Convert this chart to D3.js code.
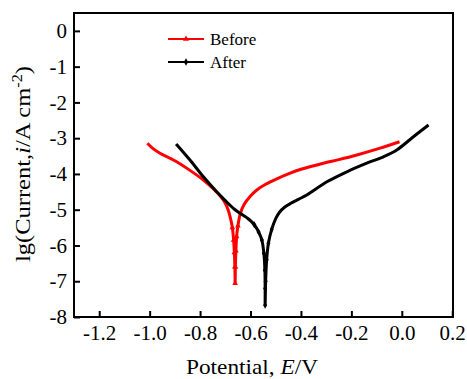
<!DOCTYPE html>
<html>
<script src="https://d3js.org/d3.v7.min.js"></script>

<head>
    <style>
        body {
            margin: 0;
            background-color: #ffffff;
        }

        svg {
            display: block;
            font-family: "Liberation Serif", "Times New Roman", serif;
        }

        svg text {
            font-family: "Liberation Serif", "Times New Roman", serif;
        }
    </style>
</head>

<body>
</body>
<script>
    const width = 467,
        height = 379;
    const margin = { top: 13, right: 14, bottom: 62, left: 74 };

    // Tafel curves: potential (V) and lg(i)
    const beforeE = [-1.009, -0.985, -0.959, -0.925, -0.893, -0.840, -0.787, -0.750, -0.720, -0.700, -0.688, -0.680, -0.672,
        -0.667, -0.664, -0.662, -0.661, -0.660, -0.658, -0.655, -0.650, -0.640, -0.625, -0.600, -0.575, -0.540, -0.500,
        -0.450, -0.400, -0.311, -0.250, -0.178, -0.086, -0.009];
    const beforeLg = [-3.14, -3.30, -3.42, -3.54, -3.66, -3.90, -4.17, -4.40, -4.62, -4.82, -5.02, -5.22, -5.50,
        -5.85, -6.20, -6.60, -7.06, -6.60, -6.15, -5.75, -5.45, -5.10, -4.85, -4.62, -4.45, -4.29, -4.15,
        -4.00, -3.87, -3.70, -3.60, -3.47, -3.28, -3.10];

    const afterE = [-0.895, -0.840, -0.787, -0.734, -0.701, -0.665, -0.635, -0.608, -0.585, -0.568, -0.555, -0.547, -0.543,
        -0.542, -0.542, -0.540, -0.536, -0.529, -0.516, -0.500, -0.485, -0.465, -0.440, -0.410, -0.377, -0.297, -0.218,
        -0.139, -0.073, -0.020, 0.046, 0.106];
    const afterLg = [-3.16, -3.61, -4.08, -4.50, -4.74, -4.98, -5.13, -5.26, -5.42, -5.62, -5.85, -6.22, -6.69,
        -7.20, -7.67, -7.00, -6.40, -5.94, -5.55, -5.25, -5.07, -4.93, -4.82, -4.71, -4.59, -4.22, -3.94,
        -3.70, -3.52, -3.33, -2.96, -2.63];

    const seriesNames = ["Before", "After"];
    const xTicks = [-1.2, -1.0, -0.8, -0.6, -0.4, -0.2, 0.0, 0.2];
    const yTicks = [0, -1, -2, -3, -4, -5, -6, -7, -8];

    const svg = d3.select("body").append("svg").attr("width", width).attr("height", height);

    const x = d3.scaleLinear().domain([-1.3, 0.203]).range([margin.left, width - margin.right]);
    const y = d3.scaleLinear().domain([-8, 0.5]).range([height - margin.bottom, margin.top]);

    function draw() {
        const series = [
            { name: seriesNames[0], color: "#ff0000", symbol: d3.symbolTriangle, pts: beforeE.map((e, i) => [e, beforeLg[i]]) },
            { name: seriesNames[1], color: "#000000", symbol: d3.symbolDiamond, pts: afterE.map((e, i) => [e, afterLg[i]]) }
        ];

        const line = d3.line()
            .x(d => x(d[0]))
            .y(d => y(d[1]))
            .curve(d3.curveCatmullRom.alpha(0.5));

        series.forEach(s => {
            svg.append("path")
                .attr("d", line(s.pts))
                .attr("fill", "none")
                .attr("stroke", s.color)
                .attr("stroke-width", 3);
            svg.selectAll(null)
                .data(s.pts.filter(d => d[1] < -5.4))
                .enter()
                .append("path")
                .attr("d", d3.symbol().type(s.symbol).size(14))
                .attr("transform", d => `translate(${x(d[0])},${y(d[1])})`)
                .attr("fill", s.color);
        });

        // axes, ticks pointing inward
        const xAxis = svg.append("g")
            .attr("transform", `translate(0,${height - margin.bottom})`)
            .call(d3.axisBottom(x).tickValues(xTicks).tickSizeInner(-6).tickSizeOuter(0).tickPadding(8));
        const yAxis = svg.append("g")
            .attr("transform", `translate(${margin.left},0)`)
            .call(d3.axisLeft(y).tickValues(yTicks).tickSizeInner(-6).tickSizeOuter(0).tickPadding(7));

        [xAxis, yAxis].forEach(g => {
            g.attr("font-family", null).attr("font-size", 21);
            g.select(".domain").remove();
            g.selectAll(".tick line").attr("stroke", "#000").attr("stroke-width", 2);
            g.selectAll(".tick text")
                .style("font-family", "'Liberation Serif', 'Times New Roman', serif")
                .attr("fill", "#000");
        });
        xAxis.selectAll(".tick text").text(d => d.toFixed(1));
        yAxis.selectAll(".tick text").text(d => String(d));

        svg.append("rect")
            .attr("x", margin.left)
            .attr("y", margin.top)
            .attr("width", width - margin.left - margin.right)
            .attr("height", height - margin.top - margin.bottom)
            .attr("fill", "none")
            .attr("stroke", "#000")
            .attr("stroke-width", 2);

        // axis titles
        const xt = svg.append("text")
            .attr("x", 252)
            .attr("y", 374)
            .attr("text-anchor", "middle")
            .attr("font-size", 21)
            .attr("textLength", 132)
            .attr("lengthAdjust", "spacingAndGlyphs");
        xt.append("tspan").text("Potential, ");
        xt.append("tspan").attr("font-style", "italic").text("E");
        xt.append("tspan").text("/V");

        const yt = svg.append("text")
            .attr("transform", `translate(30,164) rotate(-90)`)
            .attr("text-anchor", "middle")
            .attr("font-size", 21)
            .attr("textLength", 196)
            .attr("lengthAdjust", "spacingAndGlyphs");
        yt.append("tspan").text("lg(Current,");
        yt.append("tspan").attr("font-style", "italic").text("i");
        yt.append("tspan").text("/A cm");
        yt.append("tspan").attr("font-size", 14).attr("dy", -8).text("-2");
        yt.append("tspan").attr("dy", 8).text(")");

        // legend
        series.forEach((s, i) => {
            const ly = 39 + i * 23;
            svg.append("line")
                .attr("x1", 168).attr("x2", 204)
                .attr("y1", ly).attr("y2", ly)
                .attr("stroke", s.color)
                .attr("stroke-width", 2);
            svg.append("path")
                .attr("d", d3.symbol().type(s.symbol).size(16))
                .attr("transform", `translate(186,${ly})`)
                .attr("fill", s.color);
            svg.append("text")
                .attr("x", 210)
                .attr("y", ly + 6)
                .attr("font-size", 17)
                .text(s.name);
        });
    }

    draw();
</script>

</html>
